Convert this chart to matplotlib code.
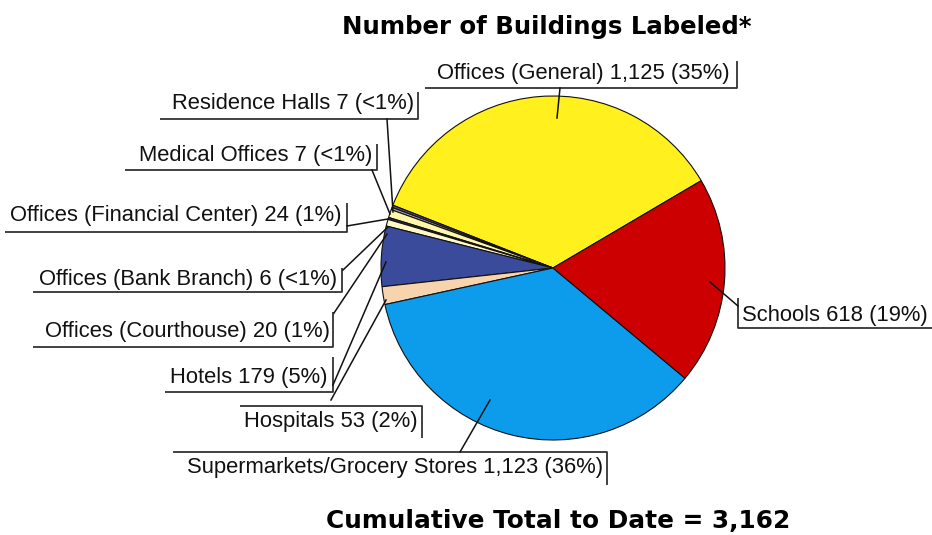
import matplotlib.pyplot as plt

# buildings labeled, by type (pie order, counterclockwise from Offices General)
categories = ['Offices (General)', 'Residence Halls', 'Medical Offices',
              'Offices (Financial Center)', 'Offices (Bank Branch)',
              'Offices (Courthouse)', 'Hotels', 'Hospitals',
              'Supermarkets/Grocery Stores', 'Schools']
counts = [1125, 7, 7, 24, 6, 20, 179, 53, 1123, 618]
pct_text = ['35%', '<1%', '<1%', '1%', '<1%', '1%', '5%', '2%', '36%', '19%']
colors = ['#FFF01E', '#5E4E72', '#B7A9C8', '#FFF6A6', '#2E2E5E',
          '#FFF9C8', '#3B4B9C', '#F7D3AE', '#0D9CEC', '#CC0000']

W, H = 932, 535
plt.rcParams['font.family'] = ['Liberation Sans', 'DejaVu Sans']
fig = plt.figure(figsize=(W / 100, H / 100), dpi=100)
ax = fig.add_axes([0, 0, 1, 1])

cx, cy, r = 553, H - 268, 172
ax.pie(counts, colors=colors, center=(cx, cy), radius=r, startangle=30.5,
       counterclock=True,
       wedgeprops=dict(edgecolor='#111111', linewidth=0.8))
ax.set_xlim(0, W)
ax.set_ylim(0, H)
ax.axis('off')


def Y(py):
    return H - py


# label layout: text right edge / y center, box style, leader from -> to (pixel coords)
layout = {
    'Offices (General)': dict(tx=730, ty=73, ha='right', box=[(425, 88), (737, 88), (737, 61)],
                              lead=[(560, 88), (557, 118)]),
    'Residence Halls': dict(tx=414, ty=104, ha='right', box=[(160, 119), (418, 119), (418, 92)],
                            lead=[(387, 119), (393, 212)]),
    'Medical Offices': dict(tx=372, ty=155, ha='right', box=[(125, 170), (377, 170), (377, 144)],
                            lead=[(372, 170), (390, 214)]),
    'Offices (Financial Center)': dict(tx=342, ty=216, ha='right', box=[(5, 232), (347, 232), (347, 203)],
                                       lead=[(347, 226), (388, 219)]),
    'Offices (Bank Branch)': dict(tx=337, ty=279, ha='right', box=[(33, 292), (342, 292), (342, 268)],
                                  lead=[(343, 270), (388, 227)]),
    'Offices (Courthouse)': dict(tx=330, ty=331, ha='right', box=[(33, 347), (333, 347), (333, 312)],
                                 lead=[(334, 313), (387, 234)]),
    'Hotels': dict(tx=328, ty=378, ha='right', box=[(165, 392), (333, 392), (333, 357)],
                   lead=[(333, 385), (386, 262)]),
    'Hospitals': dict(tx=418, ty=421, ha='right', box=[(240, 406), (422, 406), (422, 438)],
                      lead=[(331, 400), (386, 300)]),
    'Supermarkets/Grocery Stores': dict(tx=603, ty=467, ha='right', box=[(173, 452), (607, 452), (607, 485)],
                                        lead=[(460, 452), (490, 400)]),
    'Schools': dict(tx=742, ty=315, ha='left', box=[(738, 298), (738, 328), (932, 328)],
                    lead=[(738, 306), (710, 282)]),
}

for name, n, p in zip(categories, counts, pct_text):
    L = layout[name]
    ax.text(L['tx'], Y(L['ty']), f'{name} {n:,} ({p})', ha=L['ha'], va='center',
            fontsize=15.8, color='#111111')
    bx, by = zip(*L['box'])
    ax.plot(bx, [Y(v) for v in by], color='#333333', lw=1.3, solid_capstyle='butt')
    lx, ly = zip(*L['lead'])
    ax.plot(lx, [Y(v) for v in ly], color='#111111', lw=1.1)

ax.text(547, Y(27), 'Number of Buildings Labeled*', ha='center', va='center',
        fontsize=17.6, fontweight='heavy', family='DejaVu Sans', color='black')
ax.text(558, Y(521), 'Cumulative Total to Date = {:,}'.format(sum(counts)),
        ha='center', va='center', fontsize=17.8, fontweight='heavy',
        family='DejaVu Sans', color='black')

fig.savefig('out.png', dpi=100)
